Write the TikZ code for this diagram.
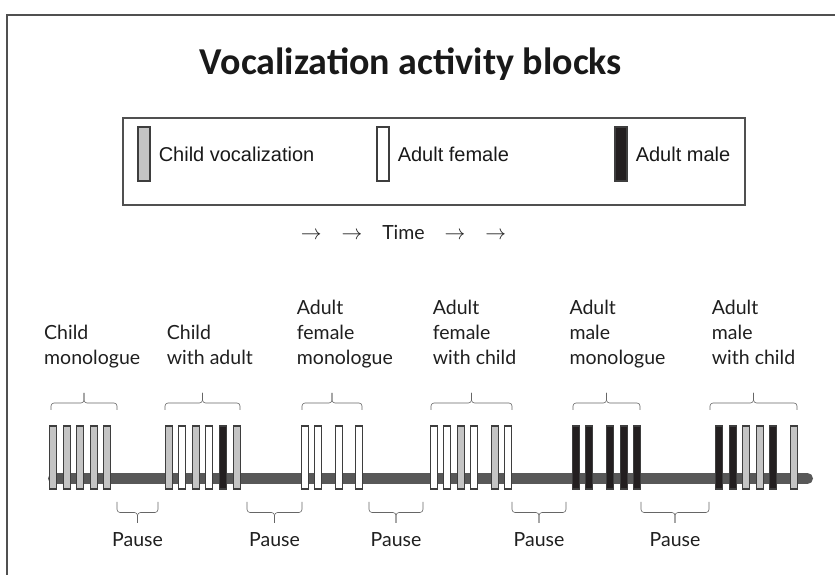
\documentclass[tikz,border=0pt]{standalone}
\usepackage{fontspec}
\usepackage{tikz}
\usetikzlibrary{positioning}
\newfontfamily\titlefont{Carlito}
\newfontfamily\lblfont{Lato}
\newfontfamily\keyfont{Liberation Sans}
\definecolor{barline}{RGB}{62,62,62}
\definecolor{childgray}{RGB}{196,196,196}
\definecolor{trackgray}{RGB}{88,88,88}
\definecolor{malefill}{RGB}{35,31,32}
\definecolor{framegray}{RGB}{80,80,80}
\tikzset{
  vbar/.style={rectangle,draw=barline,line width=1.1pt,minimum width=7.5pt,minimum height=63pt,inner sep=0pt},
  cv/.style={vbar,fill=childgray},
  af/.style={vbar,fill=white},
  am/.style={vbar,fill=malefill},
  track/.style={line width=11pt,trackgray,line cap=round},
  frame/.style={line width=1.2pt,framegray},
  legendbox/.style={rectangle,draw=framegray,line width=1.2pt,minimum width=622pt,minimum height=87pt,inner sep=0pt},
  keybar/.style={rectangle,draw=barline,line width=1.1pt,minimum width=12pt,minimum height=54pt,inner sep=0pt},
  keytxt/.style={font=\keyfont\fontsize{20}{24}\selectfont,text=black!90,inner sep=1pt},
  title/.style={font=\titlefont\bfseries\fontsize{38}{44}\selectfont,text=black!90},
  grplbl/.style={font=\lblfont\fontsize{19.5}{25}\selectfont,text=black!88,align=left,anchor=south west,inner sep=0pt,text depth=5pt},
  pauselbl/.style={font=\lblfont\fontsize{19.5}{24}\selectfont,text=black!88,anchor=base,inner sep=0pt},
  bracel/.style={line width=0.6pt,black!60,rounded corners=3pt},
}
% square-ish brace: ends at y #3, long side at y #4, tip at y #5
\newcommand{\blockbrace}[5]{%
  \draw[bracel] (#1,#3) -- (#1,#4) -- ({(#1+#2)/2},#4) -- ({(#1+#2)/2},#5);
  \draw[bracel] ({(#1+#2)/2},#5) -- ({(#1+#2)/2},#4) -- (#2,#4) -- (#2,#3);
}

\begin{document}
\begin{tikzpicture}[x=1pt,y=1pt]
  \useasboundingbox (0,0) rectangle (835,575);
  \draw[frame] (835,560) -- (7,560) -- (7,0);
  \node[title] (title) at (411,511) {Vocalization activity blocks};
  % legend
  \node[legendbox] (legend) at (434,413.5) {};
  \node[keybar,fill=childgray] (kcv) at (144,421) {};
  \node[keytxt,right=7pt of kcv] (tcv) {Child vocalization};
  \node[keybar,fill=white] (kaf) at (383,421) {};
  \node[keytxt,right=7pt of kaf] (taf) {Adult female};
  \node[keybar,fill=malefill] (kam) at (621,421) {};
  \node[keytxt,right=7pt of kam] (tam) {Adult male};
  \node[font=\lblfont\fontsize{19.5}{24}\selectfont,text=black!88] (time) at (403.5,342.3)
    {$\rightarrow$\hspace{20pt}$\rightarrow$\hspace{20pt}Time\hspace{20pt}$\rightarrow$\hspace{20pt}$\rightarrow$};
  % block labels
  \node[grplbl] (g1) at (44,205) {Child\\monologue};
  \node[grplbl] (g2) at (166.7,205) {Child\\with adult};
  \node[grplbl] (g3) at (296.7,205) {Adult\\female\\monologue};
  \node[grplbl] (g4) at (432.7,205) {Adult\\female\\with child};
  \node[grplbl] (g5) at (569.3,205) {Adult\\male\\monologue};
  \node[grplbl] (g6) at (711.7,205) {Adult\\male\\with child};
  \foreach \a/\b in {51/117,165/240,302/362,431/512,573/640,710/797}
    \blockbrace{\a}{\b}{165}{172}{182}
  % time line and vocalizations
  \coordinate (tl) at (53.5,96.5);
  \coordinate (tr) at (807.5,96.5);
  \draw[track] (tl) -- (tr);
  \foreach \x/\k [count=\i] in {53/cv,67/cv,80/cv,94/cv,107/cv,
      169/cv,182/af,196/cv,209/af,223/am,237/cv,
      305/af,318/af,339/af,359/af,
      434/af,447/af,461/cv,474/af,495/cv,508/af,
      576/am,589/am,610/am,624/am,637/am,
      719/am,733/am,746/cv,760/cv,773/am,794/cv}
    \node[\k] (bar\i) at (\x,117.5) {};
  % pauses
  \foreach \a/\b [count=\i] in {117/158,247/302,369/423,512/566,641/709}{
    \blockbrace{\a}{\b}{73}{62.5}{52}
    \node[pauselbl] (pause\i) at ({(\a+\b)/2},28.3) {Pause};
  }
\end{tikzpicture}
\end{document}
